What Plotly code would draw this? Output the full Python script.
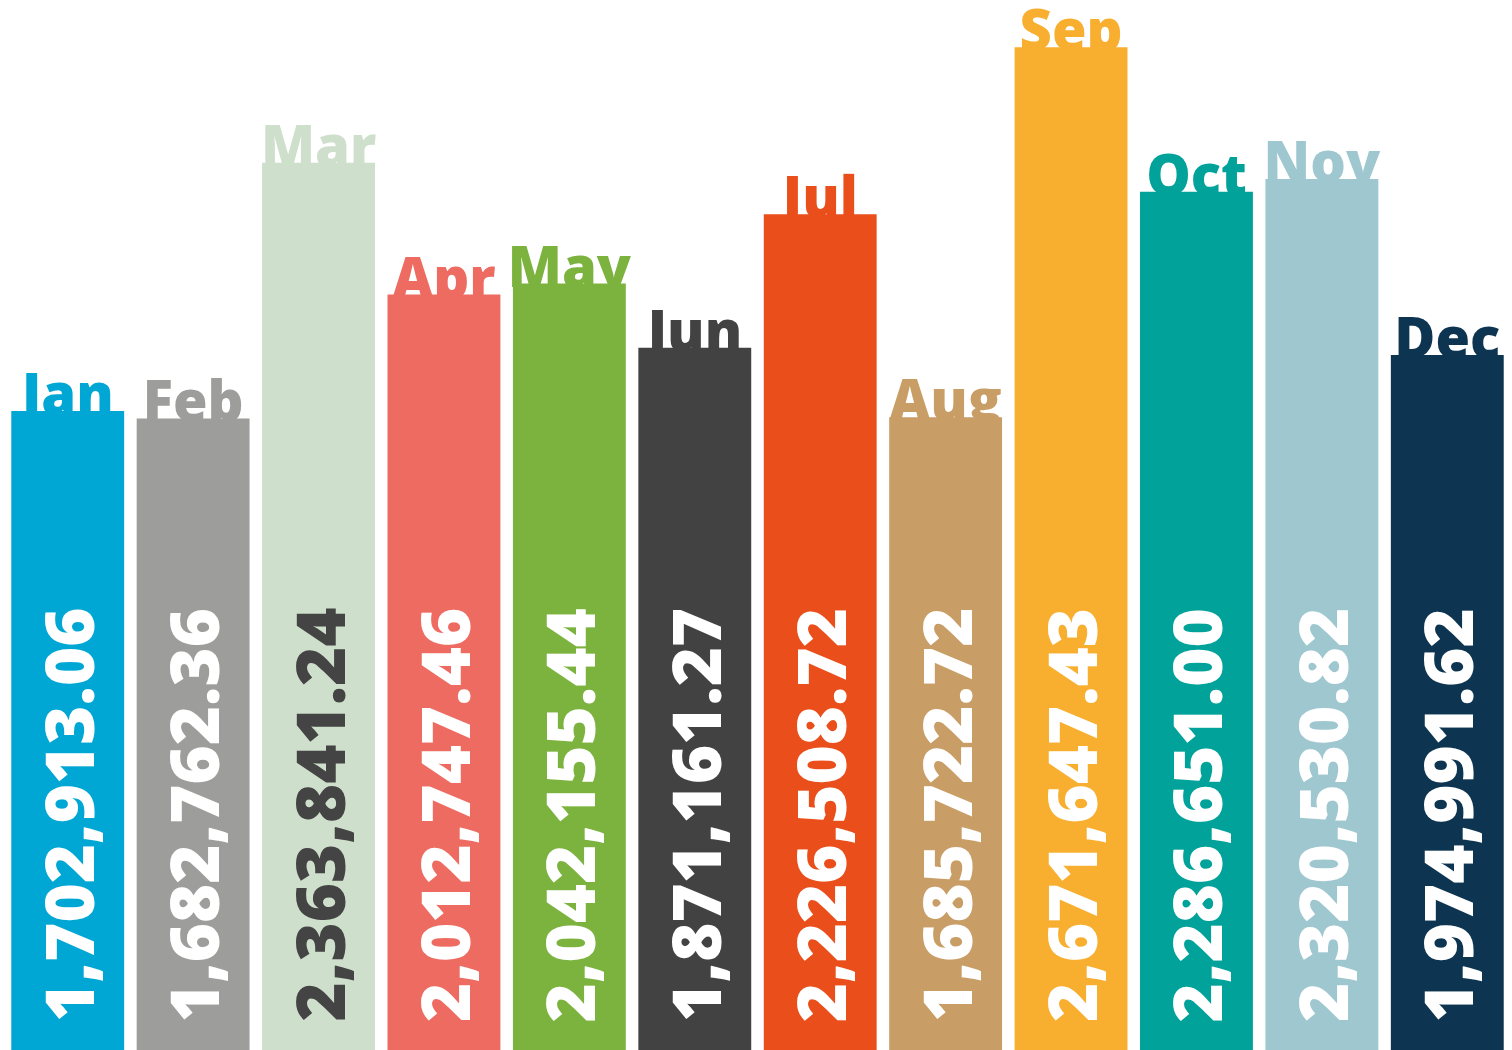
import plotly.graph_objects as go

months = ["Jan", "Feb", "Mar", "Apr", "May", "Jun", "Jul", "Aug", "Sep", "Oct", "Nov", "Dec"]
# bar heights
values = [1702913.06, 1682762.36, 2363841.24, 2012747.46, 2042155.44, 1871161.27,
          2226508.72, 1685722.72, 2671647.43, 2286651.00, 2320530.82, 1852000.00]
# value labels as printed in the picture
value_labels = ["1,702,913.06", "1,682,762.36", "2,363,841.24", "2,012,747.46",
                "2,042,155.44", "1,871,161.27", "2,226,508.72", "1,685,722.72",
                "2,671,647.43", "2,286,651.00", "2,320,530.82", "1,974,991.62"]
colors = ["#00A7D5", "#9D9D9C", "#CEDFCB", "#ED6B61", "#7CB33F", "#424242",
          "#E94E1B", "#C99D66", "#F8AE2F", "#00A29A", "#9EC7D0", "#0D3551"]
value_text_colors = ["#FFFFFF", "#FFFFFF", "#444444", "#FFFFFF", "#FFFFFF", "#FFFFFF",
                     "#FFFFFF", "#FFFFFF", "#FFFFFF", "#FFFFFF", "#FFFFFF", "#FFFFFF"]

W, H = 1512, 1050
YMAX = 2797700
label_shift_px = 17
d = label_shift_px * YMAX / H

fig = go.Figure()

# Month labels (base layer, partially covered by bars)
fig.add_trace(go.Scatter(
    x=months, y=values, mode="text", text=months,
    textposition="top center",
    textfont=dict(family="Open Sans", size=56, color=colors, weight=800),
    hoverinfo="skip", showlegend=False, cliponaxis=False,
    xaxis="x", yaxis="y",
))

# Bars on overlaid axis (drawn above labels)
fig.add_trace(go.Bar(
    x=months, y=values, marker=dict(color=colors, line=dict(width=0)),
    showlegend=False, xaxis="x", yaxis="y2", hoverinfo="x",
))

annotations = []
for m, lbl, c in zip(months, value_labels, value_text_colors):
    annotations.append(dict(
        x=m, y=0, xref="x", yref="y2",
        text=lbl, textangle=-90, showarrow=False,
        xanchor="center", yanchor="bottom", yshift=27, borderpad=0,
        font=dict(family="Open Sans", size=67, color=c, weight=800),
    ))

fig.update_layout(
    width=W, height=H,
    margin=dict(l=5, r=2, t=0, b=0, pad=0),
    paper_bgcolor="white", plot_bgcolor="white",
    bargap=0.1,
    xaxis=dict(visible=False, showgrid=False, zeroline=False, range=[-0.5, 11.5]),
    yaxis=dict(visible=False, showgrid=False, zeroline=False, range=[d, YMAX + d]),
    yaxis2=dict(visible=False, showgrid=False, zeroline=False, range=[0, YMAX],
                overlaying="y"),
    annotations=annotations,
    showlegend=False,
)

fig.write_html("out.html", config={"displayModeBar": False},
               post_script="document.body.style.margin='0';document.body.style.overflow='hidden';")
